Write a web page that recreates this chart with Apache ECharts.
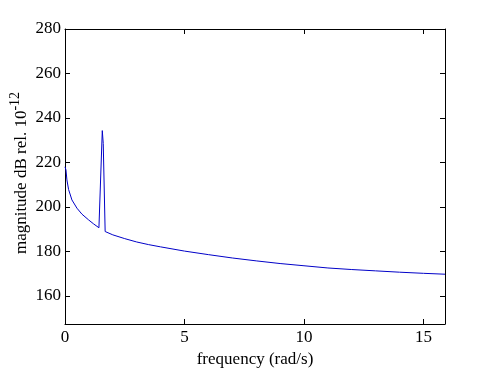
<!DOCTYPE html>
<html><head><meta charset="utf-8">
<script src="https://cdn.jsdelivr.net/npm/echarts@6/dist/echarts.min.js"></script>
<style>html,body{margin:0;padding:0;background:#fff}#c{width:492px;height:368px}</style>
</head><body><div id="c"></div>
<script>
var frequency = [0, 0.04, 0.08, 0.15, 0.29, 0.5, 0.71, 0.99, 1.2, 1.42, 1.56, 1.6, 1.68, 2.0, 2.5, 3.0, 3.5, 4.0, 5.0, 6.0, 7.0, 8.0, 9.0, 10, 11, 12, 13, 14, 15, 15.9];
var magnitude = [218, 216.6, 212.1, 207.8, 203.1, 199.4, 196.7, 194.1, 192.3, 190.6, 234.3, 228.5, 188.9, 187.4, 185.7, 184.2, 183, 182, 180.1, 178.5, 177, 175.7, 174.5, 173.5, 172.5, 171.8, 171.2, 170.6, 170.1, 169.7];
var xTicks = [0, 5, 10, 15];
var yTicks = [160, 180, 200, 220, 240, 260, 280];
var yTitle = 'magnitude dB rel. 10';
var yTitleSup = '-12';

var font = 'Liberation Serif';
var fs = 17, fsSup = 14;
var ctx = document.createElement('canvas').getContext('2d');
ctx.font = fs + 'px "' + font + '"';
var w1 = ctx.measureText(yTitle).width;
ctx.font = fsSup + 'px "' + font + '"';
var w2 = ctx.measureText(yTitleSup).width;
var W = w1 + w2;

var chart = echarts.init(document.getElementById('c'));
var axisLine = {show: true, onZero: false, lineStyle: {color: '#000', width: 1}};
var tick = {show: true, inside: true, length: 5, lineStyle: {color: '#000'}};
chart.setOption({
  animation: false,
  grid: {left: 65, right: 47, top: 29, bottom: 44, containLabel: false, outerBoundsMode: 'none'},
  graphic: [{
    type: 'group', x: 22, y: 173, rotation: Math.PI / 2,
    children: [{
      type: 'text', x: -W / 2, y: 0,
      style: {text: yTitle, font: fs + 'px "' + font + '"', fill: '#000', textAlign: 'left', textVerticalAlign: 'middle'}
    }, {
      type: 'text', x: -W / 2 + w1, y: -7,
      style: {text: yTitleSup, font: fsSup + 'px "' + font + '"', fill: '#000', textAlign: 'left', textVerticalAlign: 'middle'}
    }]
  }],
  xAxis: [{
    type: 'value', min: 0, max: 15.9, position: 'bottom',
    name: 'frequency (rad/s)', nameLocation: 'middle', nameGap: 20,
    nameTextStyle: {fontFamily: font, fontSize: fs, color: '#000'},
    axisLine: axisLine,
    axisTick: Object.assign({customValues: xTicks}, tick),
    axisLabel: {customValues: xTicks, fontFamily: font, fontSize: fs, color: '#000', margin: 5},
    splitLine: {show: false}
  }, {
    type: 'value', min: 0, max: 15.9, position: 'top',
    axisLine: axisLine,
    axisTick: Object.assign({customValues: xTicks}, tick),
    axisLabel: {show: false}, splitLine: {show: false}
  }],
  yAxis: [{
    type: 'value', min: 147.3, max: 280, position: 'left',
    axisLine: axisLine,
    axisTick: Object.assign({customValues: yTicks}, tick),
    axisLabel: {customValues: yTicks, fontFamily: font, fontSize: fs, color: '#000', margin: 4},
    splitLine: {show: false}
  }, {
    type: 'value', min: 147.3, max: 280, position: 'right',
    axisLine: axisLine,
    axisTick: Object.assign({customValues: yTicks}, tick),
    axisLabel: {show: false}, splitLine: {show: false}
  }],
  series: [{
    type: 'line', xAxisIndex: 0, yAxisIndex: 0,
    data: frequency.map(function (f, i) { return [f, magnitude[i]]; }),
    showSymbol: false, symbol: 'none',
    lineStyle: {color: '#0000c8', width: 1}
  }]
});
</script></body></html>
